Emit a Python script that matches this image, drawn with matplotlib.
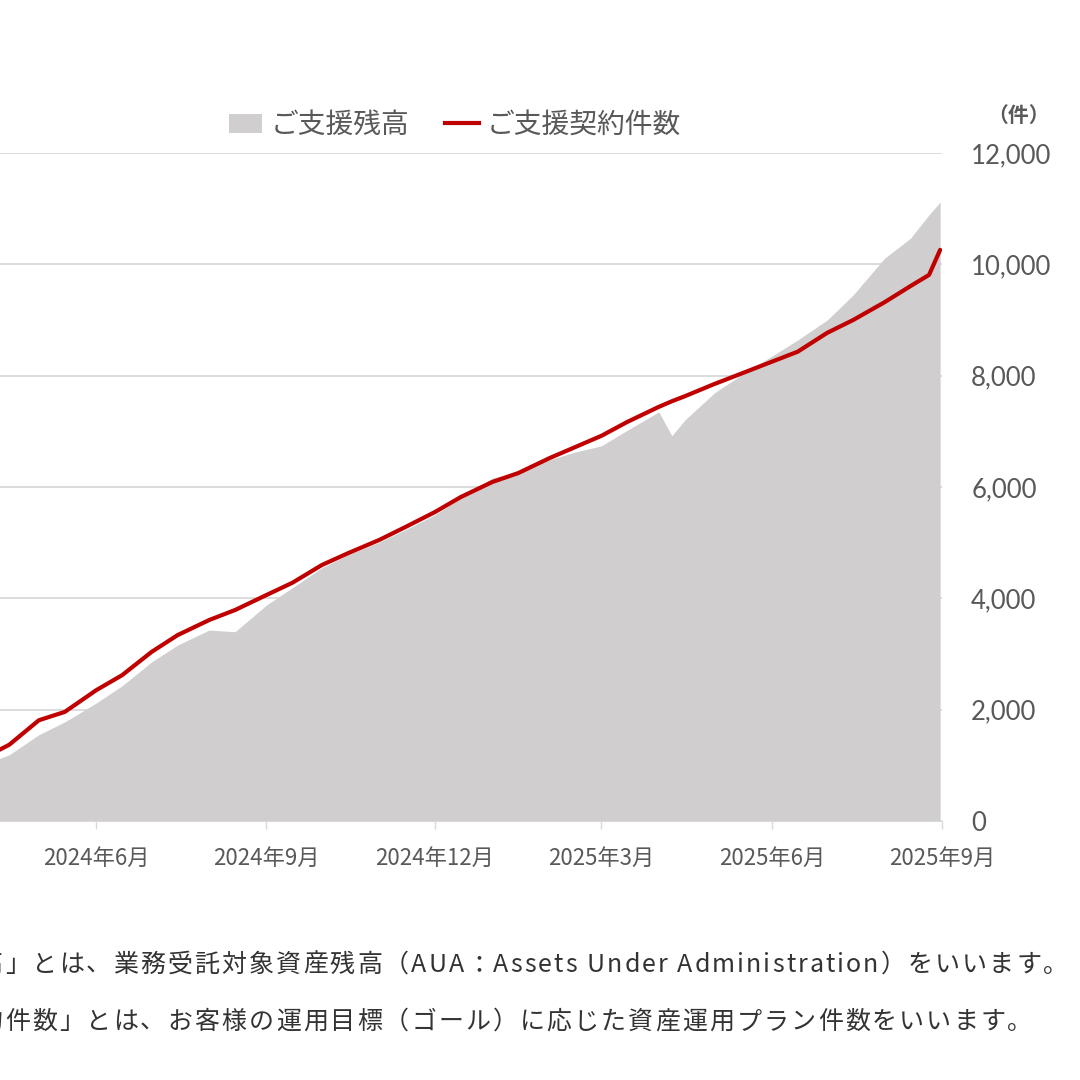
import numpy as np
import matplotlib
matplotlib.use('Agg')
import matplotlib.pyplot as plt
from matplotlib.patches import Patch
from matplotlib.lines import Line2D
from matplotlib.font_manager import findfont, FontProperties, get_font
from datetime import date

plt.rcParams['font.family'] = ['Noto Sans CJK JP', 'DejaVu Sans']

# 日付（半月ごと、読み取り値）
fechas = [
    '2024-04-01', '2024-04-15', '2024-05-01', '2024-05-15', '2024-06-01', '2024-06-15',
    '2024-07-01', '2024-07-15', '2024-08-01', '2024-08-15', '2024-09-01', '2024-09-15',
    '2024-10-01', '2024-10-15', '2024-11-01', '2024-11-15', '2024-12-01', '2024-12-15',
    '2025-01-01', '2025-01-15', '2025-02-01', '2025-02-15', '2025-03-01', '2025-03-15',
    '2025-04-01', '2025-04-08', '2025-04-15', '2025-05-01', '2025-05-15', '2025-06-01',
    '2025-06-15', '2025-07-01', '2025-07-15', '2025-08-01', '2025-08-15', '2025-08-25',
    '2025-08-31',
]
# ご支援残高（灰色の面）
zandaka = [
    1010, 1190, 1550, 1780, 2120, 2430,
    2860, 3160, 3430, 3400, 3880, 4190,
    4550, 4780, 5010, 5230, 5500, 5800,
    6160, 6270, 6490, 6630, 6740, 7020,
    7350, 6920, 7200, 7690, 8000, 8350,
    8640, 9000, 9450, 10110, 10470, 10890,
    11120,
]
# ご支援契約件数（赤線）
kensu = [
    1130, 1370, 1810, 1960, 2350, 2620,
    3040, 3340, 3610, 3790, 4060, 4280,
    4600, 4810, 5050, 5280, 5550, 5820,
    6090, 6250, 6520, 6720, 6920, 7170,
    7440, 7540, 7630, 7850, 8030, 8250,
    8430, 8770, 9000, 9320, 9610, 9810,
    10260,
]

tick_fechas = [date(2024, 6, 1), date(2024, 9, 1), date(2024, 12, 1),
               date(2025, 3, 1), date(2025, 6, 1), date(2025, 9, 1)]
tick_labels = ['2024年6月', '2024年9月', '2024年12月', '2025年3月', '2025年6月', '2025年9月']
y_ticks = [0, 2000, 4000, 6000, 8000, 10000, 12000]

notas = [
    '※「ご支援残高」とは、業務受託対象資産残高（AUA：Assets Under Administration）をいいます。',
    '※「ご支援契約件数」とは、お客様の運用目標（ゴール）に応じた資産運用プラン件数をいいます。',
]

x = np.array(fechas, dtype='datetime64[D]')

fig = plt.figure(figsize=(10.8, 10.8), dpi=100)
ax = fig.add_axes([0, 1 - 821 / 1080, 942 / 1080, (821 - 153) / 1080])

ax.fill_between(x, zandaka, color='#d0cece', lw=0, zorder=2)
ax.plot(x, kensu, color='#c00000', lw=3, zorder=3, solid_capstyle='round')

ax.set_xlim(date(2024, 4, 10), date(2025, 9, 1))
ax.set_ylim(0, 12000)

ax.set_yticks(y_ticks)
ax.set_yticklabels([f'{v:,}' for v in y_ticks])
ax.yaxis.tick_right()
ax.tick_params(axis='y', length=0, pad=21, labelsize=18.5, labelcolor='#595959')
for lab in ax.get_yticklabels():
    lab.set_family('Lato')

ax.set_xticks(tick_fechas)
ax.set_xticklabels(tick_labels)
ax.tick_params(axis='x', length=6, width=1, color='#d9d9d9', pad=13,
               labelsize=16, labelcolor='#595959')

ax.grid(axis='y', color='#d9d9d9', lw=1.3)
ax.set_axisbelow(True)
for s in ['top', 'left', 'right']:
    ax.spines[s].set_visible(False)
ax.spines['bottom'].set_color('#d9d9d9')

fig.text(1019 / 1080, 1 - 115 / 1080, '（件）', ha='center', va='center',
         fontsize=15, color='#595959', fontweight='bold')

handles = [Patch(facecolor='#d0cece', edgecolor='none'),
           Line2D([], [], color='#c00000', lw=3)]
fig.legend(handles, ['ご支援残高', 'ご支援契約件数'], loc='center',
           bbox_to_anchor=(455 / 1080, 1 - 125 / 1080), ncol=2, frameon=False,
           fontsize=20, labelcolor='#595959', handlelength=1.2,
           handletextpad=0.3, columnspacing=1.3)


# 注記：字間を少し広げて1文字ずつ配置（左端で切れている部分は描かない）
def texto_espaciado(x0, y0, s, size, track, color):
    font = get_font(findfont(FontProperties(family='Noto Sans CJK JP')))
    hf = plt.rcParams['text.hinting_factor']
    xp = x0
    for ch in s:
        font.set_size(size, fig.dpi)
        adv = font.load_char(ord(ch)).horiAdvance / 64 / hf
        if ch != ' ' and xp + adv > 0:
            fig.text(xp / 1080, 1 - y0 / 1080, ch, ha='left', va='baseline',
                     fontsize=size, color=color)
        xp += adv + track


texto_espaciado(-185, 972, notas[0], 18, 2.1, '#333333')
texto_espaciado(-185, 1029, notas[1], 18, 2.1, '#333333')

fig.savefig('out.png', dpi=100)
